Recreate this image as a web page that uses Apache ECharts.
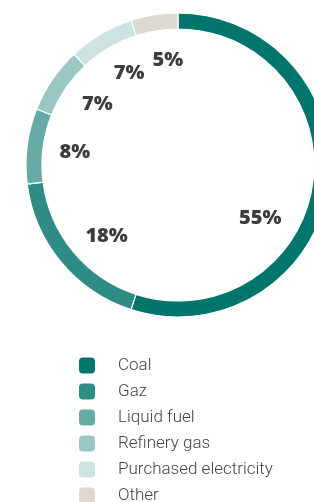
<!DOCTYPE html>
<html>
<head>
<meta charset="utf-8">
<script src="https://cdn.jsdelivr.net/npm/echarts@6/dist/echarts.min.js"></script>
<style>
  html, body { margin: 0; padding: 0; background: #fff; }
  #chart { width: 314px; height: 502px; }
</style>
</head>
<body>
<div id="chart"></div>
<script>
const categories = ['Coal', 'Gaz', 'Liquid fuel', 'Refinery gas', 'Purchased electricity', 'Other'];
const shares = [55, 18, 8, 7, 7, 5];
const colors = ['#00756b', '#2f8c85', '#66aba6', '#9ac6c3', '#cce3e1', '#ddd9cf'];

// where each percentage sits inside the ring (degrees clockwise from top, px from centre)
const labelAngle = [123, 225, 277, 307, 332, 354.5];
const labelDist = [98, 101, 104, 101, 104, 105];

const cx = 178, cy = 165;

const chart = echarts.init(document.getElementById('chart'));
chart.setOption({
  animation: false,
  color: colors,
  legend: {
    orient: 'vertical',
    left: 79,
    top: 357,
    height: 160,
    padding: 0,
    itemWidth: 16,
    itemHeight: 16,
    itemGap: 9,
    icon: 'roundRect',
    itemStyle: { borderWidth: 0 },
    selectedMode: false,
    textStyle: {
      fontFamily: 'Roboto',
      fontWeight: 300,
      fontSize: 17,
      color: '#444',
      padding: [0, 0, 0, 18]
    },
    data: categories
  },
  series: [{
    type: 'pie',
    center: [cx, cy],
    radius: [136, 152],
    startAngle: 90,
    clockwise: true,
    silent: true,
    itemStyle: { borderColor: '#fff', borderWidth: 1.2 },
    label: {
      show: true,
      position: 'inside',
      formatter: '{c}%',
      fontFamily: 'Open Sans',
      fontWeight: 800,
      fontSize: 20,
      color: '#3d3d3d'
    },
    labelLine: { show: false },
    labelLayout: function (p) {
      const a = labelAngle[p.dataIndex] * Math.PI / 180;
      const r = labelDist[p.dataIndex];
      return {
        x: cx + r * Math.sin(a),
        y: cy - r * Math.cos(a),
        align: 'center',
        verticalAlign: 'middle'
      };
    },
    data: categories.map((name, i) => ({ name: name, value: shares[i] }))
  }]
});
</script>
</body>
</html>
